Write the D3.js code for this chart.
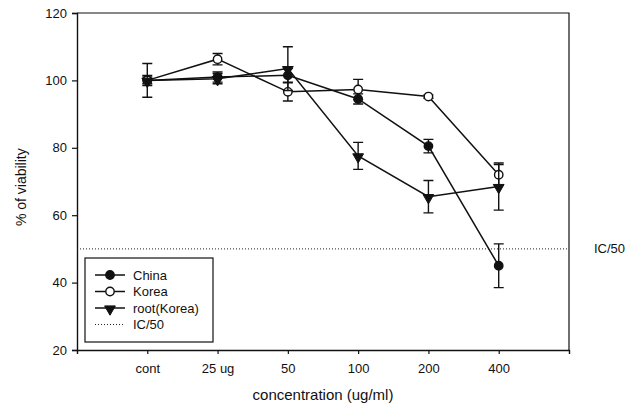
<!DOCTYPE html>
<html>
<head>
<meta charset="utf-8">
<script src="https://cdn.jsdelivr.net/npm/d3@7"></script>
<style>
  body { margin: 0; background: #fff; }
  text { font-family: Arial, "Liberation Sans", sans-serif; fill: #111; }
</style>
</head>
<body>
<div id="chart"></div>
<script>
// data
var categories = ["cont", "25 ug", "50", "100", "200", "400"];
var china    = [100, 101, 101.5, 94.5, 80.5, 45];
var chinaErr = [5, 1.5, 2, 1.5, 2, 6.5];
var korea    = [100, 106.3, 96.6, 97.3, 95.2, 72];
var koreaErr = [1, 1.7, 2.7, 3, 0.5, 3];
var root     = [100, 100.5, 103.5, 77.6, 65.5, 68.5];
var rootErr  = [1.5, 1.5, 6.5, 4, 4.8, 7];
var yTicks   = [20, 40, 60, 80, 100, 120];
var icLevel  = 50;

var margin = {top: 13, right: 71, bottom: 58, left: 77},
    width = 640 - margin.left - margin.right,
    height = 408 - margin.top - margin.bottom;

var svg = d3.select('#chart')
  .append('svg')
  .attr('width', 640)
  .attr('height', 408)
  .append('g')
  .attr('transform', 'translate(' + margin.left + ',' + margin.top + ')');

var x = d3.scalePoint()
  .domain(categories)
  .range([0, width])
  .padding(1);

var y = d3.scaleLinear()
  .domain([20, 120])
  .range([height, 0]);

// axes
svg.append('g')
  .attr('transform', 'translate(0,' + height + ')')
  .call(d3.axisBottom(x).tickSize(4).tickPadding(10))
  .call(function (g) { g.selectAll('text').style('font-size', '13px'); });

svg.append('g')
  .call(d3.axisLeft(y).tickValues(yTicks).tickSize(5).tickPadding(5))
  .call(function (g) { g.selectAll('text').style('font-size', '13px'); });

svg.selectAll('.domain').attr('stroke', '#111').attr('stroke-width', 1.4);
svg.selectAll('.tick line').attr('stroke', '#111').attr('stroke-width', 1.2);

// frame top and right
svg.append('path')
  .attr('d', 'M0,0H' + width + 'V' + height)
  .attr('fill', 'none')
  .attr('stroke', '#111')
  .attr('stroke-width', 1.2);

// IC/50 line
svg.append('line')
  .attr('x1', 0).attr('x2', width)
  .attr('y1', y(icLevel)).attr('y2', y(icLevel))
  .attr('stroke', '#222')
  .attr('stroke-width', 1)
  .attr('stroke-dasharray', '1,2');

svg.append('text')
  .attr('x', width + 25)
  .attr('y', y(icLevel) + 4)
  .style('font-size', '13px')
  .text('IC/50');

// axis labels
svg.append('text')
  .attr('text-anchor', 'middle')
  .attr('x', width / 2)
  .attr('y', height + 50)
  .style('font-size', '15px')
  .text('concentration (ug/ml)');

svg.append('text')
  .attr('text-anchor', 'middle')
  .attr('transform', 'translate(' + (-51) + ',' + (y(60) - 28) + ') rotate(-90)')
  .style('font-size', '14px')
  .text('% of viability');

var series = [
  {name: 'China', vals: china, err: chinaErr, shape: 'circle', fill: '#111'},
  {name: 'Korea', vals: korea, err: koreaErr, shape: 'circle', fill: '#fff'},
  {name: 'root(Korea)', vals: root, err: rootErr, shape: 'triangle', fill: '#111'}
];

var line = d3.line()
  .x(function (d, i) { return x(categories[i]); })
  .y(function (d) { return y(d); });

function drawMarker(g, s, cx, cy) {
  if (s.shape === 'circle') {
    g.append('circle')
      .attr('cx', cx).attr('cy', cy).attr('r', 4.2)
      .attr('fill', s.fill)
      .attr('stroke', '#111')
      .attr('stroke-width', 1.4);
  } else {
    g.append('path')
      .attr('d', d3.symbol().type(d3.symbolTriangle).size(50)())
      .attr('transform', 'translate(' + cx + ',' + (cy + 1) + ') rotate(180)')
      .attr('fill', s.fill)
      .attr('stroke', '#111')
      .attr('stroke-width', 1);
  }
}

series.forEach(function (s) {
  var g = svg.append('g');
  // error bars
  s.vals.forEach(function (v, i) {
    var cx = x(categories[i]);
    var hi = y(v + s.err[i]), lo = y(v - s.err[i]);
    g.append('path')
      .attr('d', 'M' + cx + ',' + hi + 'V' + lo +
                 'M' + (cx - 5) + ',' + hi + 'H' + (cx + 5) +
                 'M' + (cx - 5) + ',' + lo + 'H' + (cx + 5))
      .attr('fill', 'none')
      .attr('stroke', '#111')
      .attr('stroke-width', 1.4);
  });
  g.append('path')
    .datum(s.vals)
    .attr('fill', 'none')
    .attr('stroke', '#111')
    .attr('stroke-width', 1.5)
    .attr('d', line);
  s.vals.forEach(function (v, i) {
    drawMarker(g, s, x(categories[i]), y(v));
  });
});

// legend
var legend = svg.append('g')
  .attr('transform', 'translate(8,' + (height - 92) + ')');

legend.append('rect')
  .attr('x', 0).attr('y', 0)
  .attr('width', 128).attr('height', 84)
  .attr('fill', '#fff')
  .attr('stroke', '#111')
  .attr('stroke-width', 1.2);

series.forEach(function (s, i) {
  var ly = 17 + i * 16.5;
  legend.append('line')
    .attr('x1', 10).attr('x2', 40)
    .attr('y1', ly).attr('y2', ly)
    .attr('stroke', '#111').attr('stroke-width', 1.5);
  drawMarker(legend, s, 25, ly);
  legend.append('text')
    .attr('x', 48).attr('y', ly + 4.5)
    .style('font-size', '13px')
    .text(s.name);
});

var icy = 17 + 3 * 16.5;
legend.append('line')
  .attr('x1', 10).attr('x2', 40)
  .attr('y1', icy).attr('y2', icy)
  .attr('stroke', '#222').attr('stroke-width', 1)
  .attr('stroke-dasharray', '1,2');
legend.append('text')
  .attr('x', 48).attr('y', icy + 4.5)
  .style('font-size', '13px')
  .text('IC/50');
</script>
</body>
</html>
